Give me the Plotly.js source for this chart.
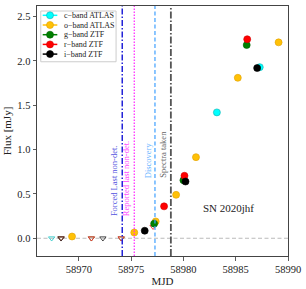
<!DOCTYPE html>
<html>
<head>
<meta charset="utf-8">
<script src="https://cdn.plot.ly/plotly-3.0.1.min.js"></script>
<style>html,body{margin:0;padding:0;background:#fff;}#chart{width:306px;height:289px;}</style>
</head>
<body>
<div id="chart"></div>
<script>
// ---- data ----
const bandNames = ["c\u2212band ATLAS", "o\u2212band ATLAS", "g\u2212band ZTF", "r\u2212band ZTF", "i\u2212band ZTF"];
const bandColors = ["#00FFFF", "#FFC107", "#008000", "#FF0000", "#000000"];
const bandEdges = ["#10B0B0", "#E0A000", "#006000", "#D00000", "#000000"];
const limColors = ["#30C8C8", "#FFC107", "#208020", "#FF3030", "#333333"];

const cMJD = [58983.2, 58987.3];
const cFlux = [1.42, 1.93];
const oMJD = [58969.35, 58975.3, 58977.35, 58979.3, 58981.2, 58985.2, 58989.1];
const oFlux = [0.02, 0.065, 0.19, 0.49, 0.915, 1.81, 2.21];
const gMJD = [58977.2, 58980.0, 58986.05];
const gFlux = [0.165, 0.655, 2.18];
const rMJD = [58978.15, 58980.1, 58986.1];
const rFlux = [0.36, 0.705, 2.245];
const iMJD = [58976.3, 58980.2, 58987.05];
const iFlux = [0.085, 0.64, 1.92];

// upper limits (non-detections)
const cLimMJD = [58967.4];
const cLimFlux = [0];
const gLimMJD = [58968.3, 58971.2, 58974.05];
const gLimFlux = [0, 0, 0];
const rLimMJD = [58968.3, 58971.2, 58974.05, 58977.1];
const rLimFlux = [0, 0, 0, 0.13];
const iLimMJD = [58968.3, 58972.3];
const iLimFlux = [0, 0];

// event markers
const eventNames = ["Forced Last non-det.", "Reported last non-det.", "Discovery", "Spectra taken"];
const eventMJD = [58974.15, 58975.3, 58977.28, 58978.8];
const eventLabelY = [0.23, 0.23, 0.66, 0.66];
const eventColors = ["#2323D8", "#FF22FF", "#3FA0FF", "#555555"];
const eventTextColors = ["#5555E0", "#FF44FF", "#66B3FF", "#666666"];
const eventDash = ["6px,2px,1.5px,2px", "1.5px,1.5px", "4px,2.5px", "7px,2px,1.5px,2px"];
const eventWidth = [1.5, 1.2, 1.2, 1.8];

const snName = "SN 2020jhf";
const snPos = [58984.3, 0.34];

const xTicks = [58970, 58975, 58980, 58985, 58990];
const yTicks = [0, 0.5, 1.0, 1.5, 2.0, 2.5];

const FONT = "Liberation Serif, DejaVu Serif, serif";

// ---- traces ----
const detX = [cMJD, oMJD, gMJD, rMJD, iMJD];
const detY = [cFlux, oFlux, gFlux, rFlux, iFlux];
const limX = [cLimMJD, null, gLimMJD, rLimMJD, iLimMJD];
const limY = [cLimFlux, null, gLimFlux, rLimFlux, iLimFlux];

const traces = [];
// upper limits first (open down triangles)
for (let b = 0; b < 5; b++) {
  if (!limX[b]) continue;
  traces.push({
    x: limX[b], y: limY[b], type: "scatter", mode: "markers", showlegend: false,
    marker: {symbol: "triangle-down-open", size: 5.5, color: limColors[b], line: {width: 0.9}},
    hoverinfo: "skip"
  });
}
for (let b = 0; b < 5; b++) {
  traces.push({
    x: detX[b], y: detY[b], type: "scatter", mode: "markers", name: bandNames[b], showlegend: false,
    marker: {symbol: "circle", size: 7, color: bandColors[b], line: {width: 0.6, color: bandEdges[b]}}
  });
}

// ---- shapes ----
const shapes = [];
// zero line
shapes.push({type: "line", xref: "paper", yref: "y", x0: 0, x1: 1, y0: 0, y1: 0, layer: "below",
  line: {color: "#BBBBBB", width: 1.2, dash: "4px,2.5px"}});
// event lines
for (let k = 0; k < eventMJD.length; k++) {
  shapes.push({type: "line", xref: "x", yref: "paper", x0: eventMJD[k], x1: eventMJD[k], y0: 0, y1: 1,
    line: {color: eventColors[k], width: eventWidth[k], dash: eventDash[k]}});
}

// manual compact legend
const legX0 = 0.015, legX1 = 0.315, legTop = 0.98, legBot = 0.777;
shapes.push({type: "rect", xref: "paper", yref: "paper", x0: legX0, x1: legX1, y0: legBot, y1: legTop,
  fillcolor: "rgba(255,255,255,0.85)", line: {color: "#CCCCCC", width: 1}});
const annotations = [];
for (let b = 0; b < 5; b++) {
  const yy = 0.9628 - b * 0.0388;
  shapes.push({type: "line", xref: "paper", yref: "paper", x0: 0.0227, x1: 0.0809, y0: yy, y1: yy,
    line: {color: bandColors[b], width: 1.5}});
  shapes.push({type: "circle", xref: "paper", yref: "paper", xsizemode: "pixel", ysizemode: "pixel",
    xanchor: 0.0518, yanchor: yy, x0: -3.5, x1: 3.5, y0: -3.5, y1: 3.5,
    fillcolor: bandColors[b], line: {color: bandEdges[b], width: 0.6}});
  annotations.push({xref: "paper", yref: "paper", x: 0.1008, y: yy, xanchor: "left", yanchor: "middle",
    text: bandNames[b], showarrow: false, font: {family: FONT, size: 8, color: "#222"}});
}

// event labels
for (let k = 0; k < eventNames.length; k++) {
  annotations.push({xref: "x", yref: "y", x: eventMJD[k], y: eventLabelY[k], xanchor: "right", yanchor: "bottom",
    xshift: -0.5, textangle: -90, text: eventNames[k], showarrow: false,
    font: {family: FONT, size: 8.5, color: eventTextColors[k]}});
}
annotations.push({xref: "x", yref: "y", x: snPos[0], y: snPos[1], text: snName, showarrow: false,
  xanchor: "center", yanchor: "middle", font: {family: FONT, size: 11, color: "#222"}});

const layout = {
  width: 306, height: 289,
  margin: {l: 37, r: 18, t: 6, b: 33},
  paper_bgcolor: "#fff", plot_bgcolor: "#fff",
  showlegend: false,
  font: {family: FONT, size: 10.5, color: "#222"},
  xaxis: {
    range: [58966, 58990], tickvals: xTicks, ticktext: xTicks.map(String),
    ticks: "outside", ticklen: 3.5, tickwidth: 0.8, tickcolor: "#333",
    showline: true, mirror: true, linecolor: "#444", linewidth: 1,
    showgrid: false, zeroline: false,
    title: {text: "MJD", font: {family: FONT, size: 11}, standoff: 3},
    tickfont: {family: FONT, size: 10.5}
  },
  yaxis: {
    range: [-0.2, 2.62], tickvals: yTicks, ticktext: yTicks.map(v => v.toFixed(1)),
    ticks: "outside", ticklen: 3.5, tickwidth: 0.8, tickcolor: "#333",
    showline: true, mirror: true, linecolor: "#444", linewidth: 1,
    showgrid: false, zeroline: false,
    title: {text: "Flux [mJy]", font: {family: FONT, size: 11}, standoff: 3},
    tickfont: {family: FONT, size: 10.5}
  },
  shapes: shapes,
  annotations: annotations
};

Plotly.newPlot("chart", traces, layout, {staticPlot: true, displayModeBar: false});
</script>
</body>
</html>
